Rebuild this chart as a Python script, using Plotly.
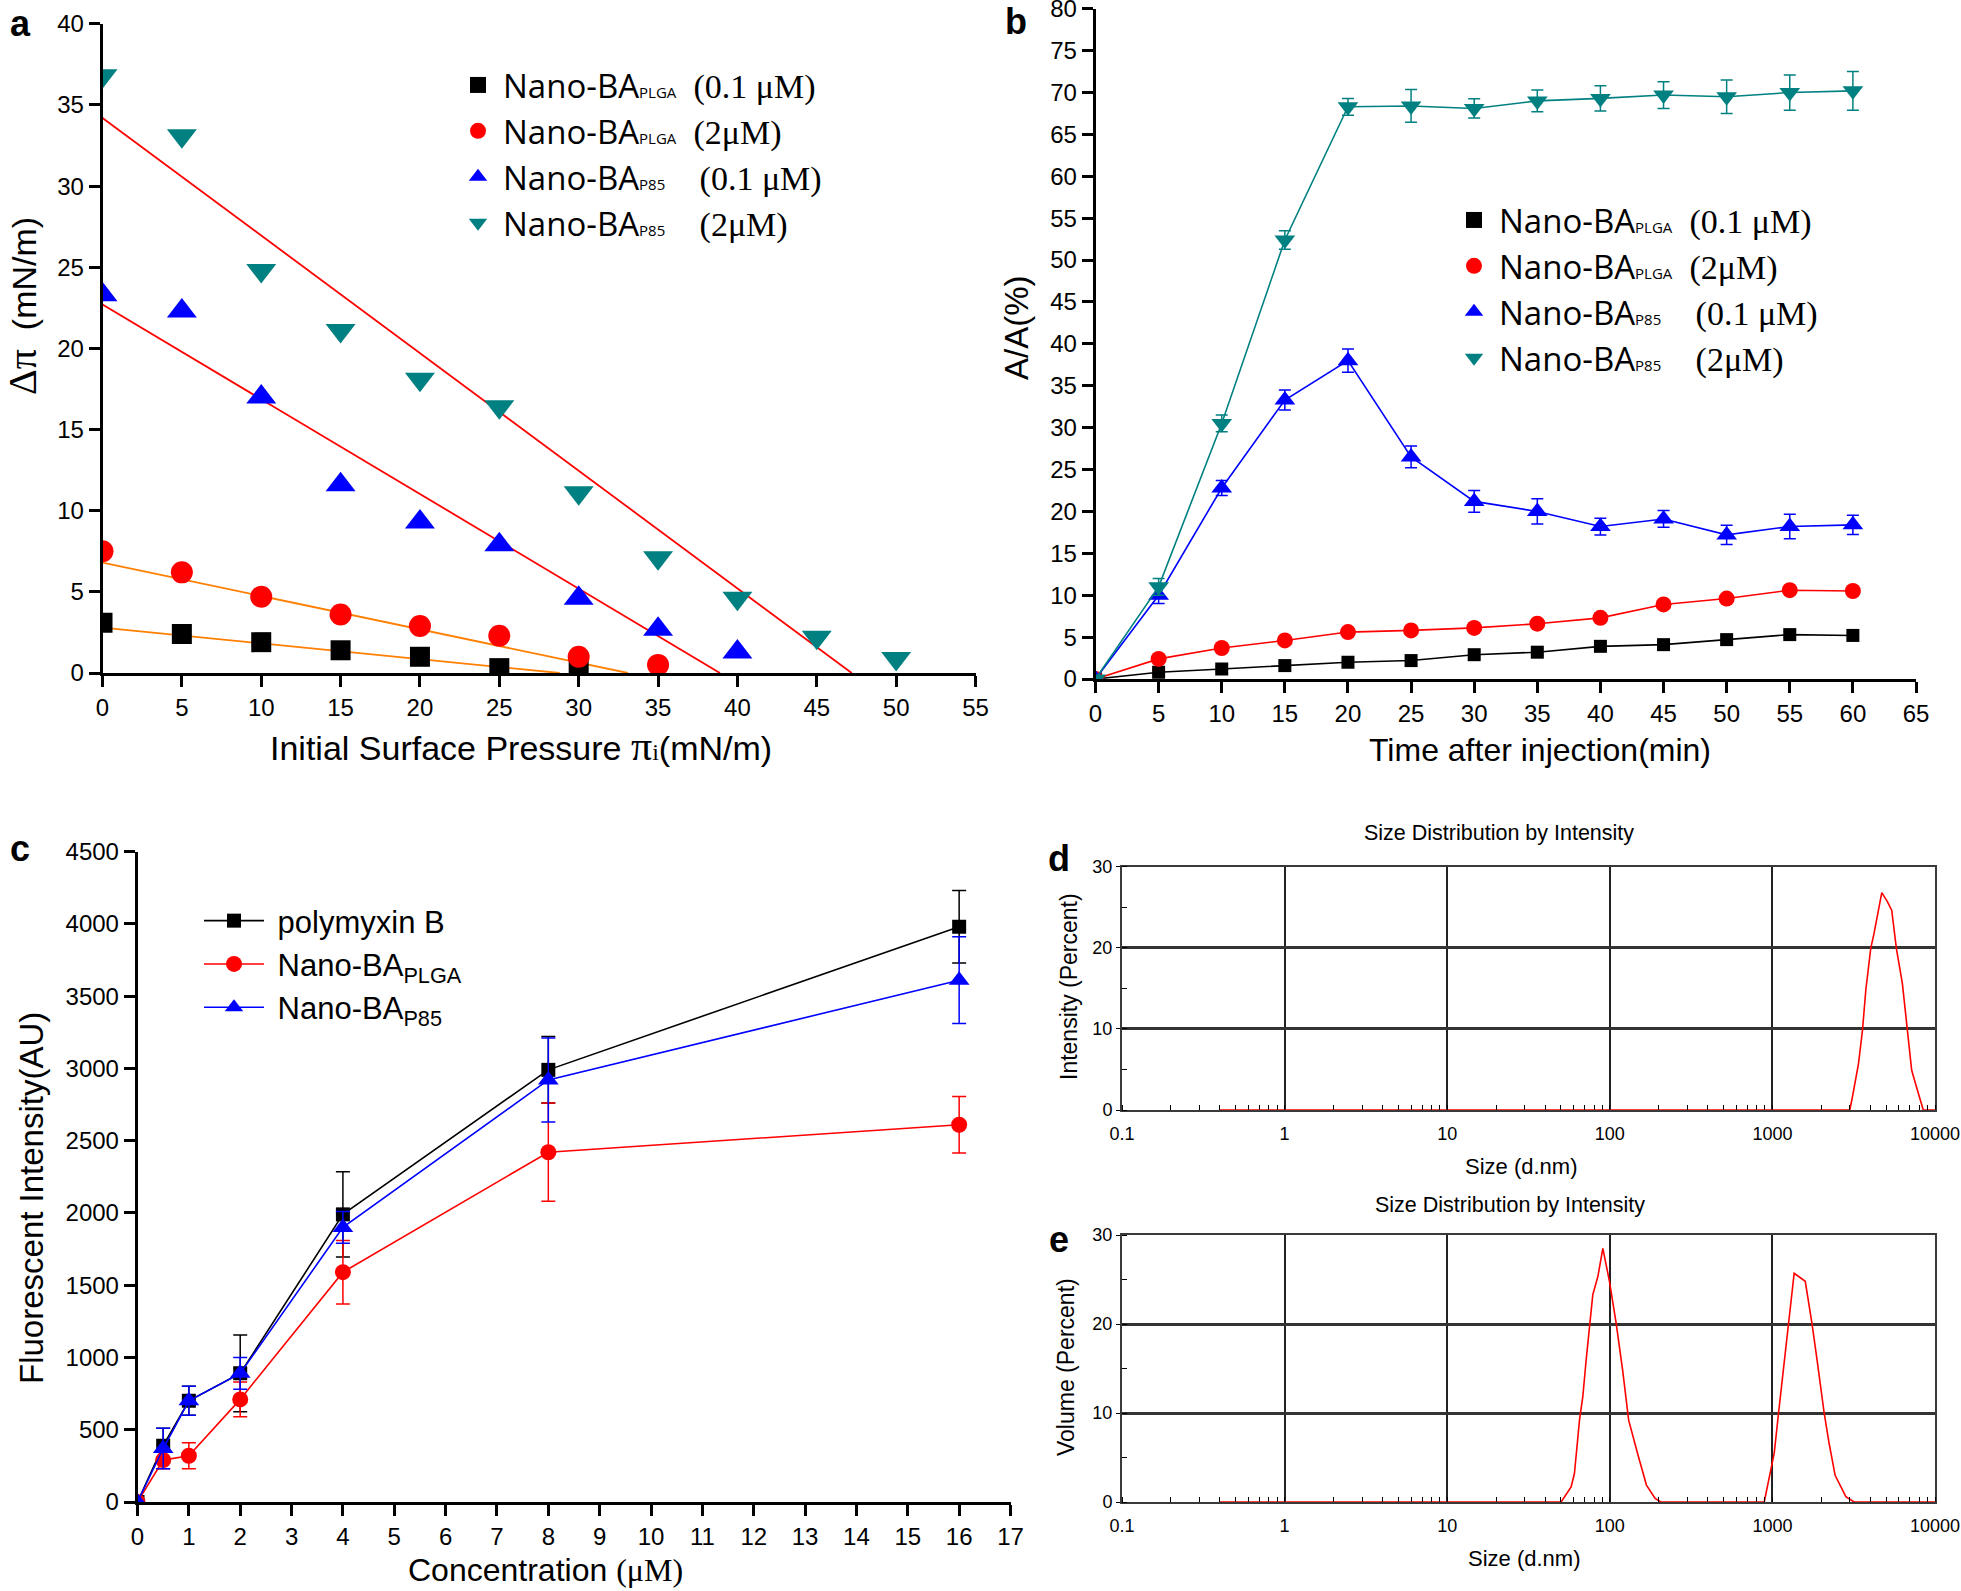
import plotly.graph_objects as go

W, H = 1961, 1591

# ---------------- Panel a data ----------------
a_x_plga01 = [0, 5, 10, 15, 20, 25, 30]
a_y_plga01 = [3.1, 2.4, 1.9, 1.4, 1.0, 0.3, 0.25]
a_x_plga2 = [0, 5, 10, 15, 20, 25, 30, 35]
a_y_plga2 = [7.5, 6.2, 4.7, 3.6, 2.9, 2.3, 1.0, 0.5]
a_x_p85_01 = [0, 5, 10, 15, 20, 25, 30, 35, 40]
a_y_p85_01 = [23.3, 22.3, 17.0, 11.6, 9.3, 7.9, 4.6, 2.7, 1.3]
a_x_p85_2 = [0, 5, 10, 15, 20, 25, 30, 35, 40, 45, 50]
a_y_p85_2 = [36.8, 33.1, 24.8, 21.1, 18.1, 16.4, 11.1, 7.1, 4.6, 2.2, 0.9]
# fitted lines: intercept at x=0 and x where line reaches 0
a_fit_intercept = [2.8, 6.8, 22.7, 34.2]
a_fit_xzero = [28.8, 33.1, 38.9, 47.2]
a_fit_colors = ["#FF7F00", "#FF7F00", "#FF0000", "#FF0000"]

# ---------------- Panel b data ----------------
b_time = [0, 5, 10, 15, 20, 25, 30, 35, 40, 45, 50, 55, 60]
b_plga01 = [0, 0.8, 1.2, 1.6, 2.0, 2.2, 2.9, 3.2, 3.9, 4.1, 4.7, 5.3, 5.2]
b_plga01_err = [0, 0.3, 0.3, 0.3, 0.3, 0.3, 0.4, 0.4, 0.4, 0.4, 0.4, 0.4, 0.4]
b_plga2 = [0, 2.4, 3.7, 4.6, 5.6, 5.8, 6.1, 6.6, 7.3, 8.9, 9.6, 10.6, 10.5]
b_plga2_err = [0, 0.3, 0.3, 0.3, 0.3, 0.3, 0.3, 0.3, 0.3, 0.3, 0.3, 0.3, 0.3]
b_p85_01 = [0, 10.0, 22.8, 33.3, 38.0, 26.5, 21.2, 20.0, 18.2, 19.1, 17.2, 18.2, 18.4]
b_p85_01_err = [0, 1.0, 0.9, 1.2, 1.4, 1.3, 1.3, 1.5, 1.0, 1.0, 1.15, 1.45, 1.15]
b_p85_2 = [0, 11.0, 30.5, 52.4, 68.3, 68.4, 68.1, 69.0, 69.3, 69.7, 69.5, 70.0, 70.2]
b_p85_2_err = [0, 1.0, 1.0, 1.1, 1.0, 1.95, 1.15, 1.3, 1.5, 1.6, 2.0, 2.1, 2.3]

# ---------------- Panel c data ----------------
c_conc = [0, 0.5, 1, 2, 4, 8, 16]
c_polymyxin = [0, 390, 700, 890, 1990, 2990, 3980]
c_polymyxin_err = [0, 120, 100, 265, 295, 230, 250]
c_plga = [0, 290, 320, 710, 1590, 2420, 2610]
c_plga_err = [0, 60, 90, 120, 220, 340, 195]
c_p85 = [0, 370, 700, 890, 1900, 2920, 3610]
c_p85_err = [0, 140, 100, 110, 110, 290, 300]

# ---------------- Panel d data ----------------
d_size = [0.4, 2993, 3105, 3383, 3580, 3754, 4024, 4220, 4707, 5096, 5420,
          5790, 6300, 6760, 7190, 7600, 8470, 10000]
d_intensity = [0, 0, 1.6, 5.7, 9.8, 14.8, 19.9, 21.8, 26.8, 25.7, 24.6,
               19.9, 15.6, 9.8, 4.9, 3.2, 0, 0]

# ---------------- Panel e data ----------------
e_size = [0.4, 50.2, 57.8, 60.6, 65.1, 68.2, 71.5, 75.0, 78.6, 84.4, 90.6,
          99.5, 109.4, 120, 130.6, 148.5, 168, 190, 206,
          891, 980, 1026, 1091, 1181, 1256, 1361, 1592, 1750, 1894, 2081,
          2232, 2431, 2830, 3180, 10000]
e_volume = [0, 0, 1.7, 3.2, 9.2, 11.8, 15.9, 20.1, 23.3, 25.3, 28.5,
            24.8, 20.1, 14.8, 9.2, 5.4, 1.9, 0.4, 0,
            0, 3.6, 5.5, 10.0, 15.9, 20.1, 25.7, 24.8, 20.1, 15.6, 10.0,
            6.6, 3.0, 0.6, 0, 0]

dls_ticks = [0.1, 1, 10, 100, 1000, 10000]
dls_ticktext = ["0.1", "1", "10", "100", "1000", "10000"]

# ---------------- helpers ----------------
def px(x):
    return x / W

def py(y):
    return 1 - y / H

SANS = "Liberation Sans, Arial, sans-serif"
SERIF = "Liberation Serif, Times New Roman, serif"
LEG = "Open Sans, Noto Sans, sans-serif"

TEAL = "#008080"
BLUE = "#0000FF"
RED = "#FF0000"
BLACK = "#000000"

fig = go.Figure()

# ---------------- Panel a ----------------
a_series = [
    (a_x_plga01, a_y_plga01, "square", 20, BLACK),
    (a_x_plga2, a_y_plga2, "circle", 22, RED),
    (a_x_p85_01, a_y_p85_01, "triangle-up", 26, BLUE),
    (a_x_p85_2, a_y_p85_2, "triangle-down", 26, TEAL),
]

def leg_name(sub, conc, gap):
    return ("Nano-BA<span style='font-size:15px'>" + sub + "</span>" + "\u00a0" * gap +
            "<span style='font-family:Liberation Serif, Times New Roman, serif;font-size:34px'>" + conc + "</span>")

leg_names = [
    leg_name("PLGA", "(0.1 \u03bcM)", 2),
    leg_name("PLGA", "(2\u03bcM)", 2),
    leg_name("P85", "(0.1 \u03bcM)", 4),
    leg_name("P85", "(2\u03bcM)", 4),
]

for i in range(4):
    fig.add_trace(go.Scatter(
        x=[0, a_fit_xzero[i]], y=[a_fit_intercept[i], 0], mode="lines",
        line=dict(color=a_fit_colors[i], width=1.8), xaxis="x", yaxis="y",
        showlegend=False, hoverinfo="skip"))

for (xs, ys, sym, sz, col), nm in zip(a_series, leg_names):
    fig.add_trace(go.Scatter(
        x=xs, y=ys, mode="markers", name=nm,
        marker=dict(symbol=sym, size=sz, color=col, line=dict(width=0)),
        xaxis="x", yaxis="y", legend="legend"))

# ---------------- Panel b ----------------
b_series = [
    (b_plga01, b_plga01_err, "square", 13, BLACK),
    (b_plga2, b_plga2_err, "circle", 16, RED),
    (b_p85_01, b_p85_01_err, "triangle-up", 18, BLUE),
    (b_p85_2, b_p85_2_err, "triangle-down", 18, TEAL),
]
for ys, es, sym, sz, col in b_series:
    fig.add_trace(go.Scatter(
        x=b_time, y=ys, mode="lines+markers",
        line=dict(color=col, width=1.6),
        marker=dict(symbol=sym, size=sz, color=col, line=dict(width=0)),
        error_y=dict(type="data", array=es, visible=True, color=col, thickness=1.5, width=6),
        xaxis="x2", yaxis="y2", showlegend=False))

for (ys, es, sym, sz, col), nm in zip(b_series, leg_names):
    fig.add_trace(go.Scatter(
        x=[None], y=[None], mode="markers", name=nm,
        marker=dict(symbol=sym, size=20, color=col, line=dict(width=0)),
        xaxis="x2", yaxis="y2", legend="legend2"))

# ---------------- Panel c ----------------
c_series = [
    (c_polymyxin, c_polymyxin_err, "square", 14, BLACK, "\u00a0polymyxin B"),
    (c_plga, c_plga_err, "circle", 16, RED, "\u00a0Nano-BA<sub>PLGA</sub>"),
    (c_p85, c_p85_err, "triangle-up", 18, BLUE, "\u00a0Nano-BA<sub>P85</sub>"),
]
for ys, es, sym, sz, col, nm in c_series:
    fig.add_trace(go.Scatter(
        x=c_conc, y=ys, mode="lines+markers", name=nm,
        line=dict(color=col, width=1.6),
        marker=dict(symbol=sym, size=sz, color=col, line=dict(width=0)),
        error_y=dict(type="data", array=es, visible=True, color=col, thickness=1.5, width=7),
        xaxis="x3", yaxis="y3", legend="legend3"))

# ---------------- Panel d / e ----------------
fig.add_trace(go.Scatter(x=d_size, y=d_intensity, mode="lines",
                         line=dict(color=RED, width=1.6), xaxis="x4", yaxis="y4",
                         showlegend=False))
fig.add_trace(go.Scatter(x=e_size, y=e_volume, mode="lines",
                         line=dict(color=RED, width=1.6), xaxis="x5", yaxis="y5",
                         showlegend=False))

# ---------------- axes ----------------
def std_axis(**kw):
    d = dict(showline=True, linecolor="black", linewidth=2.5, ticks="outside",
             ticklen=11, tickwidth=2.5, tickcolor="black", showgrid=False,
             zeroline=False, mirror=False, automargin=False, ticklabeloverflow="allow",
             tickfont=dict(family=SANS, size=24, color="black"))
    d.update(kw)
    return d

def dls_x(**kw):
    d = dict(type="log", range=[-1, 4], tickvals=dls_ticks, ticktext=dls_ticktext,
             showline=True, linecolor="#3a3a3a", linewidth=2, mirror=True,
             showgrid=True, gridcolor="#222222", gridwidth=1.5, zeroline=False,
             automargin=False, ticks="", ticklabelstandoff=6, ticklabeloverflow="allow",
             tickfont=dict(family=SANS, size=18, color="black"),
             minor=dict(ticks="inside", ticklen=5, tickwidth=1, tickcolor="black",
                        dtick="D1", showgrid=False))
    d.update(kw)
    return d

def dls_y(**kw):
    d = dict(range=[0, 30], dtick=10, showline=True, linecolor="#3a3a3a",
             linewidth=2, mirror=True, showgrid=True, gridcolor="#333333",
             gridwidth=2.5, zeroline=False, automargin=False, ticks="outside", ticklen=4,
             ticklabeloverflow="allow",
             tickcolor="black", tickfont=dict(family=SANS, size=18, color="black"),
             minor=dict(ticks="inside", ticklen=5, tickwidth=1, tickcolor="black",
                        dtick=5, showgrid=False))
    d.update(kw)
    return d

layout = dict(
    width=W, height=H, margin=dict(l=0, r=0, t=0, b=0, autoexpand=False),
    paper_bgcolor="white", plot_bgcolor="rgba(0,0,0,0)",
    xaxis=std_axis(domain=[px(102.5), px(975.5)], range=[0, 55], dtick=5, tick0=0, anchor="y"),
    yaxis=std_axis(domain=[py(673), py(23.8)], range=[0, 40], dtick=5, tick0=0, anchor="x"),
    xaxis2=std_axis(domain=[px(1095.5), px(1916)], range=[0, 65], dtick=5, tick0=0, anchor="y2"),
    yaxis2=std_axis(domain=[py(679), py(8.75)], range=[0, 80], dtick=5, tick0=0, anchor="x2"),
    xaxis3=std_axis(domain=[px(137.5), px(1010.5)], range=[0, 17], dtick=1, tick0=0, anchor="y3"),
    yaxis3=std_axis(domain=[py(1502), py(851.6)], range=[0, 4500], dtick=500, tick0=0, anchor="x3"),
    xaxis4=dls_x(domain=[px(1122), px(1935)], anchor="y4"),
    yaxis4=dls_y(domain=[py(1110), py(866.7)], anchor="x4"),
    xaxis5=dls_x(domain=[px(1122), px(1935)], anchor="y5"),
    yaxis5=dls_y(domain=[py(1502), py(1235)], anchor="x5"),
    legend=dict(x=px(453), y=py(57), xanchor="left", yanchor="top",
                bgcolor="rgba(0,0,0,0)", font=dict(family=LEG, size=33, color="black"),
                itemsizing="trace", itemwidth=40, traceorder="normal"),
    legend2=dict(x=px(1449), y=py(192), xanchor="left", yanchor="top",
                 bgcolor="rgba(0,0,0,0)", font=dict(family=LEG, size=33, color="black"),
                 itemsizing="trace", itemwidth=40, traceorder="normal"),
    legend3=dict(x=px(199), y=py(894), xanchor="left", yanchor="top",
                 bgcolor="rgba(0,0,0,0)", font=dict(family=SANS, size=31, color="black"),
                 itemsizing="trace", itemwidth=60, traceorder="normal"),
)

ann = []
def A(text, x, y, size, family=SANS, angle=0, bold=False, xanchor="center", yanchor="middle"):
    ann.append(dict(text=("<b>%s</b>" % text) if bold else text, x=px(x), y=py(y),
                    xref="paper", yref="paper", showarrow=False, textangle=angle,
                    xanchor=xanchor, yanchor=yanchor,
                    font=dict(family=family, size=size, color="black")))

# panel letters
A("a", 20, 24, 36, bold=True)
A("b", 1016, 22, 36, bold=True)
A("c", 20, 849, 36, bold=True)
A("d", 1059, 858, 36, bold=True)
A("e", 1059, 1239, 36, bold=True)

# panel a titles
A("Initial Surface Pressure <span style='font-family:Liberation Serif, serif;font-size:42px'>\u03c0</span>"
  "<span style='font-family:Liberation Serif, serif;font-size:24px'>i</span>(mN/m)",
  521, 746, 34)
A("<span style='font-family:Liberation Serif, serif;font-size:40px'>\u0394\u03c0</span>\u00a0\u00a0(mN/m)",
  22, 306, 34, angle=-90)

# panel b titles
A("A/A(%)", 1016, 327, 33, angle=-90)
A("Time after injection(min)", 1540, 750, 32)

# panel c titles
A("Fluorescent Intensity(AU)", 31, 1198, 33, angle=-90)
A("Concentration <span style='font-family:Liberation Serif, serif'>(\u03bcM)</span>", 545, 1570, 32)

# panel d / e titles
A("Size Distribution by Intensity", 1499, 833, 21.5)
A("Size (d.nm)", 1521, 1166, 22)
A("Intensity (Percent)", 1069, 987, 23, angle=-90)
A("Size Distribution by Intensity", 1510, 1205, 21.5)
A("Size (d.nm)", 1524, 1558, 22)
A("Volume (Percent)", 1066, 1367, 23, angle=-90)

layout["annotations"] = ann
fig.update_layout(**layout)

fig.write_html("out.html", config={"displayModeBar": False},
               post_script="document.body.style.margin='0';document.body.style.overflow='hidden';")
